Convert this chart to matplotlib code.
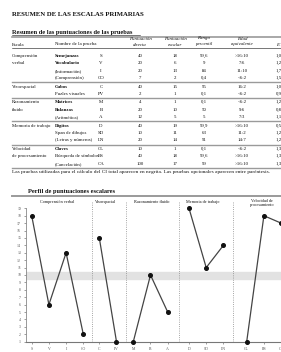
import matplotlib
matplotlib.use('Agg')
import matplotlib.pyplot as plt

plt.rcParams['font.family'] = ['Liberation Serif', 'DejaVu Serif']

# --- data ---
escalas = [['Comprensión', 'verbal'], ['Visoespacial'], ['Razonamiento', 'fluido'],
           ['Memoria de trabajo'], ['Velocidad', 'de procesamiento']]
tam_grupo = [4, 2, 3, 3, 3]
pruebas = ['Semejanzas', 'Vocabulario', '(Información)', '(Comprensión)',
           'Cubos', 'Puzles visuales',
           'Matrices', 'Balanzas', '(Aritmética)',
           'Dígitos', 'Span de dibujos', '(Letras y números)',
           'Claves', 'Búsqueda de símbolos', '(Cancelación)']
abrev = ['S', 'V', 'I', 'CO', 'C', 'PV', 'M', 'B', 'A', 'D', 'SD', 'LN', 'CL', 'BS', 'CA']
negrita = [True, True, False, False, True, False, True, True, False,
           True, False, False, True, False, False]
p_directa = ['40', '20', '20', '7', '40', '2', '4', '20', '12', '40', '10', '20', '10', '40', '100']
p_escalar = [18, 6, 13, 2, 15, 1, 1, 10, 5, 19, 11, 14, 1, 18, 17]
percentil = ['99,6', '9', '84', '0,4', '95', '0,1', '0,1', '50', '5', '99,9', '63', '91',
             '0,1', '99,6', '99']
edad = ['>16:10', '7:6', '11:10', '<6:2', '16:2', '<6:2', '<6:2', '9:6', '7:3', '>16:10',
        '11:2', '14:7', '<6:2', '>16:10', '>16:10']
err_t = ['1,00', '1,24', '1,75', '1,50', '1,09', '0,90', '1,27', '0,85', '1,13', '0,50',
         '1,24', '1,25', '1,33', '1,33', '1,30']
titulos_perfil = ['Comprensión verbal', 'Visoespacial', 'Razonamiento fluido',
                  'Memoria de trabajo', 'Velocidad de\nprocesamiento']

TXT = '#111111'
GRIS = '#9a9a9a'

fig = plt.figure(figsize=(2.81, 3.52), dpi=100)
fig.patch.set_facecolor('white')

# page layer in pixel coordinates
pg = fig.add_axes([0, 0, 1, 1])
pg.set_xlim(0, 281)
pg.set_ylim(352, 0)
pg.axis('off')

pg.text(12, 14, 'RESUMEN DE LAS ESCALAS PRIMARIAS', fontsize=4.9, fontweight='bold',
        color=TXT, va='center')
pg.text(12, 32.5, 'Resumen de las puntuaciones de las pruebas', fontsize=4.6,
        fontweight='bold', color=TXT, va='center')
pg.plot([12, 140], [35, 35], color=TXT, lw=0.4)
pg.plot([12, 281], [36.5, 36.5], color=GRIS, lw=1.2)

# headers
hs = 3.5
pg.text(12, 44.5, 'Escala', fontsize=hs, color=TXT, va='center')
pg.text(55, 44.5, 'Nombre de la prueba', fontsize=hs, color=TXT, va='center')
col_x = [140, 175, 204, 242]
cab = [('Puntuación', 'directa'), ('Puntuación', 'escalar'), ('Rango', 'percentil'),
       ('Edad', 'equivalente')]
for x, (a, b) in zip(col_x, cab):
    pg.text(x, 38.5, a, fontsize=hs, style='italic', color=TXT, ha='center', va='center')
    pg.text(x, 44.5, b, fontsize=hs, style='italic', color=TXT, ha='center', va='center')
pg.text(276, 44.5, 'E.T.', fontsize=hs, style='italic', color=TXT, va='center')
pg.plot([12, 281], [48, 48], color=TXT, lw=0.4)

# rows
fs = 3.5
ys = []
i = 0
for g, n in enumerate(tam_grupo):
    for k in range(n):
        ys.append(56 + 7.4 * i + 1.0 * g)
        i += 1
start = 0
for g, n in enumerate(tam_grupo):
    for k, linea in enumerate(escalas[g]):
        pg.text(12, ys[start + k], linea, fontsize=fs, color=TXT, va='center')
    start += n
    if g < len(tam_grupo) - 1:
        ysep = (ys[start - 1] + ys[start]) / 2
        pg.plot([12, 281], [ysep, ysep], color=GRIS, lw=1.0)
pg.plot([12, 281], [ys[-1] + 4, ys[-1] + 4], color=GRIS, lw=1.0)

for j in range(len(pruebas)):
    y = ys[j]
    pg.text(55, y, pruebas[j], fontsize=fs, color=TXT, va='center',
            fontweight='bold' if negrita[j] else 'normal')
    pg.text(101, y, abrev[j], fontsize=fs, color=TXT, ha='center', va='center')
    pg.text(col_x[0], y, p_directa[j], fontsize=fs, color=TXT, ha='center', va='center')
    pg.text(col_x[1], y, str(p_escalar[j]), fontsize=fs, color=TXT, ha='center', va='center')
    pg.text(col_x[2], y, percentil[j], fontsize=fs, color=TXT, ha='center', va='center')
    pg.text(col_x[3], y, edad[j], fontsize=fs, color=TXT, ha='center', va='center')
    pg.text(276, y, err_t[j], fontsize=fs, color=TXT, va='center')

pg.text(12, 171.5, 'Las pruebas utilizadas para el cálculo del CI total aparecen en negrita. '
        'Las pruebas opcionales aparecen entre paréntesis.', fontsize=3.9, color=TXT,
        va='center')

# profile heading
pg.text(28, 191, 'Perfil de puntuaciones escalares', fontsize=4.6, fontweight='bold',
        color=TXT, va='center')
pg.plot([12, 281], [196, 196], color=GRIS, lw=1.4)

# --- profile chart ---
y_top, y_bot = 208.3, 341.7
x_left, x_right = 26, 300
ax = fig.add_axes([x_left / 281, (352 - y_bot) / 352,
                   (x_right - x_left) / 281, (y_bot - y_top) / 352])
ax.set_xlim(x_left, x_right)
ax.set_ylim(1, 19)
ax.patch.set_alpha(0)

inicio = [31.7, 99.3, 133.3, 189, 246.7]
paso = 17.2
divisores = [91.7, 125.7, 179.3, 233.3]
centros = [57, 106, 152, 203, 262]

ax.axhspan(9.5, 10.4, color='#e2e2e2', zorder=0)
ax.vlines(divisores, 1, 19.9, colors='#888888', linestyles=':', lw=0.6, clip_on=False)

xs_all = []
start = 0
for g, n in enumerate(tam_grupo):
    xs = [inicio[g] + paso * k for k in range(n)]
    xs_all += xs
    ax.plot(xs, p_escalar[start:start + n], color='#444444', lw=0.9, zorder=3,
            marker='o', markersize=2.6, markerfacecolor='#111111',
            markeredgecolor='#111111', clip_on=False)
    start += n

for c, t in zip(centros, titulos_perfil):
    pg.text(c, 202 if '\n' not in t else 203, t, fontsize=3.1, color=TXT,
            ha='center', va='center', linespacing=1.1)

ax.set_xticks(xs_all)
ax.set_xticklabels(abrev)
ax.set_yticks(range(1, 20))
ax.tick_params(axis='both', labelsize=2.8, colors='#555555', length=1.5, width=0.4, pad=2)
for s in ['top', 'right']:
    ax.spines[s].set_visible(False)
ax.spines['left'].set_color('#888888')
ax.spines['left'].set_linewidth(0.6)
ax.spines['bottom'].set_color('#777777')
ax.spines['bottom'].set_linewidth(0.8)

fig.savefig('out.png', dpi=100)
